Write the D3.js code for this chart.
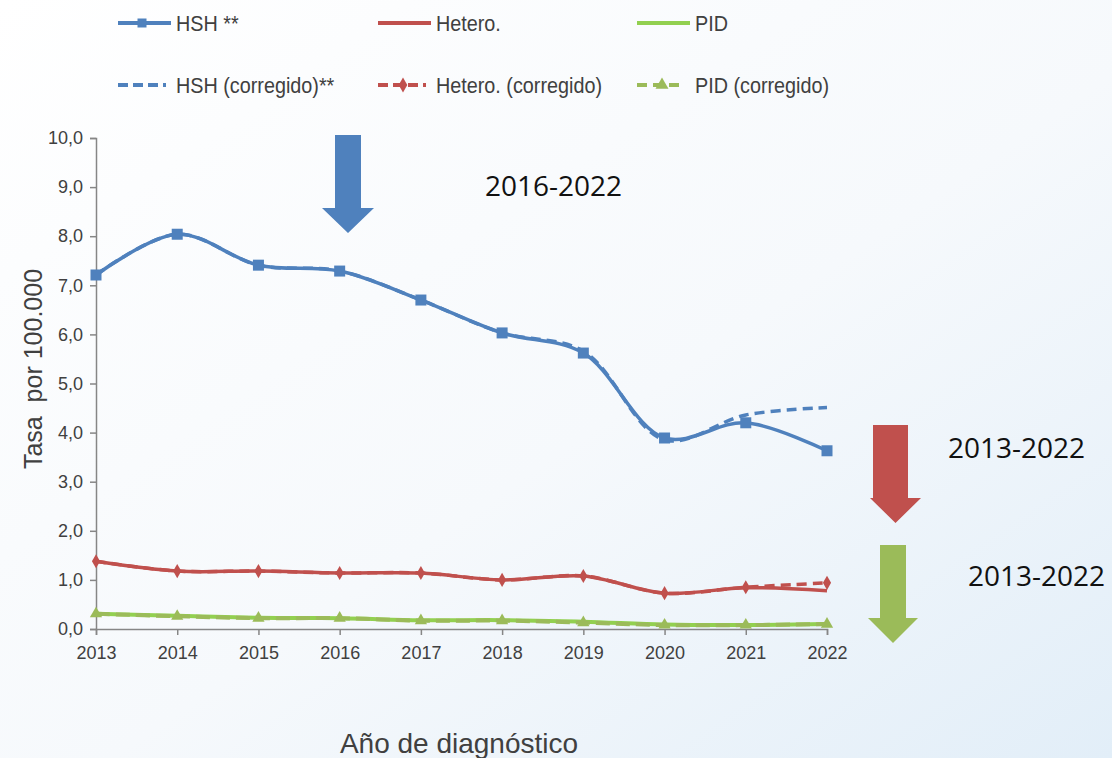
<!DOCTYPE html>
<html>
<head>
<meta charset="utf-8">
<script src="https://cdn.jsdelivr.net/npm/d3@7"></script>
<style>
  body { margin: 0; }
  svg { display: block; }
</style>
</head>
<body>
<svg id="chart" width="1112" height="758"></svg>
<script>
// years and series values
const years = [2013, 2014, 2015, 2016, 2017, 2018, 2019, 2020, 2021, 2022];
const hsh = [7.21, 8.04, 7.41, 7.29, 6.70, 6.03, 5.62, 3.89, 4.20, 3.63];
const hshCorr = [7.21, 8.04, 7.41, 7.29, 6.70, 6.03, 5.66, 3.85, 4.36, 4.51];
const hetero = [1.38, 1.18, 1.18, 1.14, 1.14, 1.00, 1.08, 0.73, 0.84, 0.78];
const heteroCorr = [1.38, 1.18, 1.18, 1.14, 1.14, 1.00, 1.08, 0.73, 0.85, 0.94];
const pid = [0.31, 0.27, 0.23, 0.22, 0.18, 0.18, 0.15, 0.09, 0.08, 0.10];
const pidCorr = [0.31, 0.26, 0.22, 0.22, 0.17, 0.17, 0.13, 0.08, 0.08, 0.10];
const yTicks = [0, 1, 2, 3, 4, 5, 6, 7, 8, 9, 10];

// drawing order: dashed under solid for HSH/Hetero, olive PID dashed on top
const series = [
  { name: "HSH (corregido)**", values: hshCorr, color: "#4f81bd", dash: "10,6", marker: null },
  { name: "Hetero. (corregido)", values: heteroCorr, color: "#c0504d", dash: "10,6", marker: "diamond" },
  { name: "HSH **", values: hsh, color: "#4f81bd", dash: null, marker: "square" },
  { name: "Hetero.", values: hetero, color: "#c0504d", dash: null, marker: null },
  { name: "PID", values: pid, color: "#92d050", dash: null, marker: null },
  { name: "PID (corregido)", values: pidCorr, color: "#9bbb59", dash: "14,6", marker: "triangle" }
];

const svg = d3.select("#chart");

// background
const defs = svg.append("defs");
const grad = defs.append("linearGradient")
  .attr("id", "bg").attr("x1", "0").attr("y1", "0").attr("x2", "1").attr("y2", "1");
grad.append("stop").attr("offset", "0").attr("stop-color", "#ffffff");
grad.append("stop").attr("offset", "0.55").attr("stop-color", "#f6f9fc");
grad.append("stop").attr("offset", "1").attr("stop-color", "#e2eef8");
svg.append("rect").attr("width", 1112).attr("height", 758).attr("fill", "url(#bg)");

const x = d3.scaleLinear().domain([2013, 2022]).range([96, 827]);
const y = d3.scaleLinear().domain([0, 10]).range([629, 138]);

// axes
const yAxis = svg.append("g")
  .attr("transform", "translate(96,0)")
  .call(d3.axisLeft(y).tickValues(yTicks).tickSize(6).tickPadding(7)
    .tickFormat((d) => d3.format(".1f")(d).replace(".", ",")));
const xAxis = svg.append("g")
  .attr("transform", "translate(0,629)")
  .call(d3.axisBottom(x).tickValues(years).tickSize(6).tickPadding(11).tickFormat(d3.format("d")));

[yAxis, xAxis].forEach((g) => {
  g.select(".domain").attr("stroke", "#868686").attr("stroke-width", 1.5);
  g.selectAll(".tick line").attr("stroke", "#868686").attr("stroke-width", 1.5);
  g.selectAll(".tick text")
    .attr("fill", "#404040")
    .style("font-family", "Liberation Sans, Arial, sans-serif")
    .style("font-size", "18px");
});

// axis titles
svg.append("text")
  .attr("transform", "translate(42,369) rotate(-90)")
  .attr("text-anchor", "middle")
  .attr("fill", "#404040")
  .style("font-family", "Liberation Sans, Arial, sans-serif")
  .style("font-size", "25px")
  .style("white-space", "pre")
  .text("Tasa  por 100.000");
svg.append("text")
  .attr("x", 459).attr("y", 753)
  .attr("text-anchor", "middle")
  .attr("fill", "#404040")
  .style("font-family", "Liberation Sans, Arial, sans-serif")
  .style("font-size", "28px")
  .text("Año de diagnóstico");

// lines
const line = d3.line()
  .x((d, i) => x(years[i]))
  .y((d) => y(d))
  .curve(d3.curveCatmullRom);

function drawMarker(g, type, color, size) {
  if (type == "square") {
    g.append("rect").attr("x", -size / 2).attr("y", -size / 2)
      .attr("width", size).attr("height", size).attr("fill", color);
  } else if (type == "diamond") {
    g.append("path").attr("d", d3.symbol().type(d3.symbolDiamond).size(size * size * 0.8))
      .attr("fill", color);
  } else if (type == "triangle") {
    g.append("path").attr("d", d3.symbol().type(d3.symbolTriangle).size(size * size * 0.9))
      .attr("fill", color);
  }
}

series.forEach((s) => {
  svg.append("path")
    .datum(s.values)
    .attr("fill", "none")
    .attr("stroke", s.color)
    .attr("stroke-width", s.name.startsWith("PID") ? 4 : 3.5)
    .attr("stroke-dasharray", s.dash)
    .attr("d", line);
  if (s.marker) {
    s.values.forEach((v, i) => {
      const g = svg.append("g").attr("transform", `translate(${x(years[i])},${y(v)})`);
      drawMarker(g, s.marker, s.color, s.marker == "square" ? 11 : 8.5);
    });
  }
});

// legend
const legendItems = [
  { label: "HSH **", color: "#4f81bd", dash: null, marker: "square", lx: 118, ly: 23 },
  { label: "Hetero.", color: "#c0504d", dash: null, marker: null, lx: 378, ly: 23 },
  { label: "PID", color: "#92d050", dash: null, marker: null, lx: 637, ly: 23 },
  { label: "HSH (corregido)**", color: "#4f81bd", dash: "10,5", marker: null, lx: 118, ly: 85 },
  { label: "Hetero. (corregido)", color: "#c0504d", dash: "10,5", marker: "diamond", lx: 378, ly: 85 },
  { label: "PID (corregido)", color: "#9bbb59", dash: "10,6", marker: "triangle", lx: 637, ly: 85 }
];
legendItems.forEach((d) => {
  const g = svg.append("g").attr("transform", `translate(${d.lx},${d.ly})`);
  g.append("line").attr("x1", 0).attr("x2", d.dash ? 48 : 53).attr("y1", 0).attr("y2", 0)
    .attr("stroke", d.color).attr("stroke-width", 4).attr("stroke-dasharray", d.dash);
  if (d.marker) {
    const m = g.append("g").attr("transform", `translate(${d.marker == "square" ? 24 : 25},0)`);
    drawMarker(m, d.marker, d.color, 9);
  }
  g.append("text")
    .attr("transform", "translate(58,8) scale(0.9,1)")
    .attr("fill", "#404040")
    .style("font-family", "Liberation Sans, Arial, sans-serif")
    .style("font-size", "22px")
    .text(d.label);
});

// trend arrows
const arrows = [
  { color: "#4f81bd", sx0: 335, sx1: 361, top: 135, hx0: 322, hx1: 374, base: 208, tip: 233 },
  { color: "#c0504d", sx0: 873, sx1: 908, top: 425, hx0: 870, hx1: 921, base: 498, tip: 523 },
  { color: "#9bbb59", sx0: 880, sx1: 906, top: 545, hx0: 868, hx1: 918, base: 618, tip: 643 }
];
arrows.forEach((a) => {
  const cx = (a.hx0 + a.hx1) / 2;
  const p = d3.path();
  p.moveTo(a.sx0, a.top);
  p.lineTo(a.sx1, a.top);
  p.lineTo(a.sx1, a.base);
  p.lineTo(a.hx1, a.base);
  p.lineTo(cx, a.tip);
  p.lineTo(a.hx0, a.base);
  p.lineTo(a.sx0, a.base);
  p.closePath();
  svg.append("path").attr("d", p.toString()).attr("fill", a.color);
});

const periodLabels = [
  { text: "2016-2022", x: 485, y: 196 },
  { text: "2013-2022", x: 948, y: 458 },
  { text: "2013-2022", x: 968, y: 586 }
];
periodLabels.forEach((d) => {
  svg.append("text")
    .attr("x", d.x).attr("y", d.y)
    .attr("fill", "#111")
    .style("font-family", "Open Sans, Liberation Sans, sans-serif")
    .style("font-size", "28px")
    .text(d.text);
});
</script>
</body>
</html>
